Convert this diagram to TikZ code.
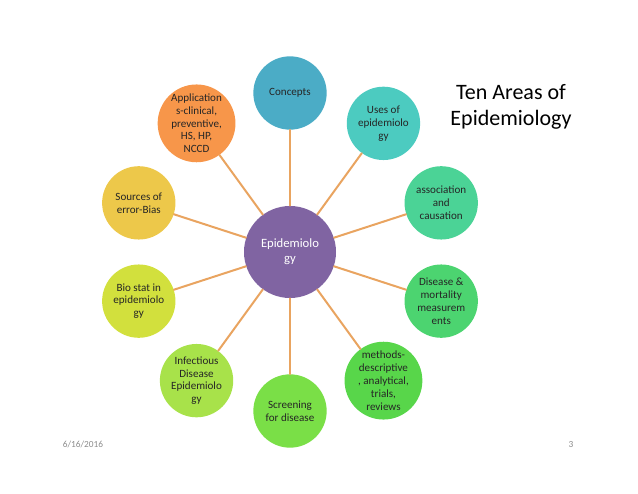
\documentclass[tikz,border=0pt]{standalone}
\usepackage{fontspec}
\setmainfont{Carlito}

\definecolor{hubpurple}{HTML}{8064A2}
\definecolor{spokeorange}{HTML}{E9A460}
\definecolor{conceptsblue}{HTML}{4BACC6}
\definecolor{usesteal}{HTML}{4CCBC0}
\definecolor{assocgreen}{HTML}{4BD396}
\definecolor{diseasegreen}{HTML}{4CD470}
\definecolor{methodsgreen}{HTML}{58D64A}
\definecolor{screengreen}{HTML}{7ADF47}
\definecolor{infectlime}{HTML}{A8E24A}
\definecolor{biolime}{HTML}{D2E03D}
\definecolor{sourcesgold}{HTML}{EDC84A}
\definecolor{applorange}{HTML}{F7964A}

\begin{document}
\begin{tikzpicture}[x=0.75pt, y=0.75pt, line cap=round, line join=round,
		area/.style={circle, minimum size=55pt, inner sep=0pt, align=center,
			text=black!85, font=\fontsize{8.3}{9.6}\selectfont},
		spoke/.style={draw=spokeorange, line width=1.5pt}]
	
	% Fix the page size
	\useasboundingbox (0,0) rectangle (638,493);
	
	% Define centre
	\coordinate (O) at (290,241);
	
	% Central circle
	\node[circle, minimum size=69pt, inner sep=0pt, fill=hubpurple, text=white,
		align=center, font=\fontsize{9.5}{11.5}\selectfont] (hub) at (O) {Epidemiolo\\gy};
	
	% Outer circles, clockwise from the top
	\node[area, fill=conceptsblue] (concepts) at ([shift={(90:159)}]O) {Concepts};
	\node[area, fill=usesteal] (uses) at ([shift={(54:159)}]O) {Uses of\\epidemiolo\\gy};
	\node[area, fill=assocgreen] (assoc) at ([shift={(18:159)}]O) {association\\and\\causation};
	\node[area, fill=diseasegreen] (disease) at ([shift={(-18:159)}]O) {Disease \&\\mortality\\measurem\\ents};
	\node[area, fill=methodsgreen] (methods) at ([shift={(-54:159)}]O) {methods-\\descriptive\\, analytical,\\trials,\\reviews};
	\node[area, fill=screengreen] (screening) at ([shift={(-90:159)}]O) {Screening\\for disease};
	\node[area, fill=infectlime] (infect) at ([shift={(-126:159)}]O) {Infectious\\Disease\\Epidemiolo\\gy};
	\node[area, fill=biolime] (biostat) at ([shift={(-162:159)}]O) {Bio stat in\\epidemiolo\\gy};
	\node[area, fill=sourcesgold] (sources) at ([shift={(162:159)}]O) {Sources of\\error-Bias};
	\node[area, fill=applorange] (appl) at ([shift={(126:159)}]O) {Application\\s-clinical,\\preventive,\\HS, HP,\\NCCD};
	
	% Spokes from the centre
	\foreach \n in {concepts, uses, assoc, disease, methods, screening, infect, biostat, sources, appl} {
		\draw[spoke] (hub) -- (\n);
	}
	
	% Title
	\node[align=center, font=\fontsize{16.5}{20}\selectfont] (title) at (511,386) {Ten Areas of\\Epidemiology};
	
	% Footer
	\node[text=black!45, font=\fontsize{7}{8}\selectfont] (date) at (83,49) {6/16/2016};
	\node[text=black!45, font=\fontsize{7}{8}\selectfont] (page) at (571,49) {3};
	
\end{tikzpicture}
\end{document}
